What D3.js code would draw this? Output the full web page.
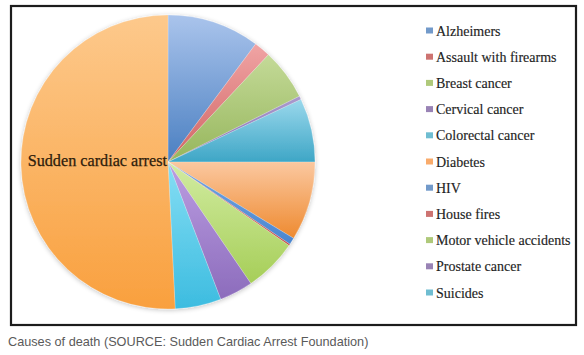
<!DOCTYPE html>
<html><head><meta charset="utf-8">
<script src="https://cdn.jsdelivr.net/npm/d3@7"></script>
<style>
html,body{margin:0;padding:0;background:#fff;}
svg{display:block;}
</style>
</head><body>
<svg id="chart" width="584" height="355"></svg>
<script>
// Data (approximate deaths per year)
const categories = ["Alzheimers","Assault with firearms","Breast cancer","Cervical cancer","Colorectal cancer","Diabetes","HIV","House fires","Motor vehicle accidents","Prostate cancer","Suicides","Sudden cardiac arrest"];
const values = [73200, 13000, 40600, 2800, 50400, 62600, 5400, 1200, 42200, 26600, 36400, 365600];
const legendLabels = categories.slice(0, 11);
const colorsTop = ["#aac4ec","#f0a4a4","#c4da98","#aa9ace","#9ad8ec","#fbc8a0","#74a6e2","#e87878","#d2eca2","#bc9ee2","#86def4","#fdc98c"];
const colorsBottom = ["#4a7fc1","#d06464","#96b65c","#8670b2","#3ea6c6","#ee8a30","#4a86d0","#c44444","#a6ce58","#8c6cbc","#3cbce0","#f9a03e"];
const legendColors = ["#4f81bd","#c0504d","#9bbb59","#8064a2","#4bacc6","#f79646","#4f81bd","#c0504d","#9bbb59","#8064a2","#4bacc6"];
const caption = "Causes of death (SOURCE: Sudden Cardiac Arrest Foundation)";

const svg = d3.select("#chart");
const defs = svg.append("defs");

// soft shadow for pie
const f = defs.append("filter").attr("id","soft").attr("x","-10%").attr("y","-10%").attr("width","120%").attr("height","120%");
f.append("feGaussianBlur").attr("in","SourceAlpha").attr("stdDeviation",2.5).attr("result","b");
f.append("feOffset").attr("in","b").attr("dx",0).attr("dy",1).attr("result","o");
f.append("feComponentTransfer").attr("in","o").attr("result","s")
  .append("feFuncA").attr("type","linear").attr("slope",0.25);
const fm = f.append("feMerge");
fm.append("feMergeNode").attr("in","s");
fm.append("feMergeNode").attr("in","SourceGraphic");

categories.forEach((c,i)=>{
  const g = defs.append("linearGradient").attr("id","g"+i)
    .attr("x1",0).attr("y1",0).attr("x2",0).attr("y2",1);
  g.append("stop").attr("offset","0%").attr("stop-color",colorsTop[i]);
  g.append("stop").attr("offset","100%").attr("stop-color",colorsBottom[i]);
});

// frame
svg.append("rect").attr("x",11).attr("y",6).attr("width",565).attr("height",319)
  .attr("fill","#fff").attr("stroke","#1c1c1c").attr("stroke-width",2.2);

const cx = 168, cy = 162, r = 147;
const pie = d3.pie().sort(null).value(d=>d);
const arc = d3.arc().innerRadius(0).outerRadius(r);
const arcs = pie(values);

const pg = svg.append("g").attr("transform",`translate(${cx},${cy})`).attr("filter","url(#soft)");
pg.selectAll("path").data(arcs).join("path")
  .attr("d",arc)
  .attr("fill",(d,i)=>`url(#g${i})`)
  .attr("stroke","rgba(255,255,255,0.35)")
  .attr("stroke-width",0.6);

// label for largest slice
svg.append("text")
  .attr("x",cx-1).attr("y",cy+4)
  .attr("text-anchor","end")
  .attr("font-family","Liberation Serif, serif")
  .attr("font-size",16.2)
  .attr("fill","#2e200c")
  .attr("stroke","#2e200c").attr("stroke-width",0.25)
  .text(categories[11]);

// legend
const ly = d3.scalePoint().domain(legendLabels).range([30.5, 292.5]);
const lg = svg.append("g");
const items = lg.selectAll("g").data(legendLabels).join("g")
  .attr("transform",d=>`translate(0,${ly(d)})`);
items.append("rect").attr("x",426).attr("y",-3).attr("width",7).attr("height",6)
  .attr("fill",(d,i)=>legendColors[i]).attr("opacity",0.8);
items.append("text").attr("x",436).attr("y",5)
  .attr("font-family","Liberation Serif, serif")
  .attr("font-size",14)
  .attr("fill","#1e1e1e")
  .attr("stroke","#1e1e1e").attr("stroke-width",0.15)
  .text(d=>d);

// caption
svg.append("text").attr("x",8).attr("y",346)
  .attr("font-family","Liberation Sans, Arial, sans-serif")
  .attr("font-size",12.7)
  .attr("fill","#5a5a5a")
  .text(caption);
</script>
</body></html>
